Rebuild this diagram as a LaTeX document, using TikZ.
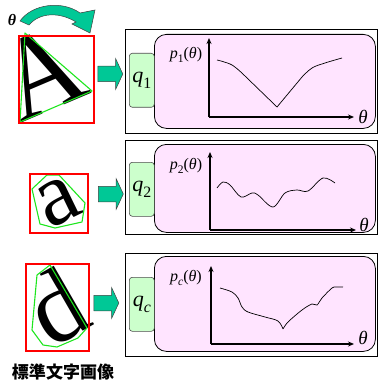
\documentclass[tikz,border=0pt]{standalone}
\usepackage{fontspec}
\setmainfont{Liberation Serif}
\newfontfamily\cjk{Noto Sans CJK JP}
\usetikzlibrary{arrows.meta,shapes.arrows}
\definecolor{pinkc}{RGB}{255,228,255}
\definecolor{greenc}{RGB}{204,255,204}
\definecolor{tealc}{RGB}{0,200,150}
\definecolor{hullc}{RGB}{30,230,30}
\newcommand\mysb[1]{\raisebox{-0.28em}{\scalebox{0.72}{#1}}}
\begin{document}
\begin{tikzpicture}[x=1pt,y=-1pt,
  outerbox/.style={draw=black,line width=0.8pt,fill=white,anchor=north west,inner sep=0},
  pinkbox/.style={draw=black,line width=0.8pt,fill=pinkc,rounded corners=12pt,anchor=north west,inner sep=0},
  qbox/.style={draw=black!70,line width=0.6pt,fill=greenc,rounded corners=3pt,anchor=north west,inner sep=0,minimum width=25pt,minimum height=54pt},
  qlabel/.style={font=\fontsize{22}{24}\selectfont,inner sep=0},
  plabel/.style={font=\fontsize{16}{18}\selectfont,inner sep=0},
  thlabel/.style={font=\fontsize{19}{20}\selectfont\itshape,inner sep=0},
  axis/.style={line width=1.3pt,-{Stealth[length=6pt,width=5pt]}},
  curve/.style={line width=0.7pt},
  blockarrow/.style={single arrow,fill=tealc,draw=black!75,line width=0.5pt,inner sep=7.5pt,
    minimum height=25pt,single arrow head extend=7.5pt,single arrow tip angle=130},
  redbox/.style={draw=red,line width=1.6pt,anchor=north west,inner sep=0},
  hull/.style={draw=hullc,line width=1.1pt,line join=round},
  letter/.style={inner sep=0,text=black}
]
\useasboundingbox (0,0) rectangle (379,385);

% ---------- panel 1 ----------
\node[outerbox,minimum width=252pt,minimum height=104pt] (o1) at (125,29) {};
\node[pinkbox,minimum width=221pt,minimum height=94pt] (pk1) at (154,34) {};
\node[qbox] (q1) at (129,53) {};
\node[qlabel] at (q1.center) {\textit{q}\mysb{1}};
\node[plabel] (p1) at (186,55) {\textit{p}\mysb{1}(\textit{θ})};
\coordinate (or1) at (209,117);
\coordinate (yt1) at (209,38);
\coordinate (xe1) at (354,117);
\draw[axis] (or1) -- (yt1);
\draw[axis] (or1) -- (xe1);
\node[thlabel] (t1) at (363,117) {θ};
\draw[curve] plot[smooth,tension=0.6] coordinates {(217,60) (232,65) (245,76)} -- (277,107) -- (302,77)
  plot[smooth,tension=0.6] coordinates {(302,77) (312,68) (325,63) (342,58)};

% ---------- panel 2 ----------
\node[outerbox,minimum width=252pt,minimum height=94pt] (o2) at (125,140) {};
\node[pinkbox,minimum width=221pt,minimum height=88pt] (pk2) at (154,144) {};
\node[qbox] (q2) at (129,162) {};
\node[qlabel] at (q2.center) {\textit{q}\mysb{2}};
\node[plabel] (p2) at (186,166) {\textit{p}\mysb{2}(\textit{θ})};
\coordinate (or2) at (210,230);
\coordinate (yt2) at (210,152);
\coordinate (xe2) at (356,230);
\draw[axis] (or2) -- (yt2);
\draw[axis] (or2) -- (xe2);
\node[thlabel] (t2) at (364,225) {θ};
\draw[curve] plot[smooth,tension=0.55] coordinates {(217,188) (223,182) (230,185) (241,197) (252,193) (258,195) (273,207) (285,193) (297,190) (308,191) (323,178) (335,183)};

% ---------- panel 3 ----------
\node[outerbox,minimum width=252pt,minimum height=103pt] (o3) at (125,253) {};
\node[pinkbox,minimum width=221pt,minimum height=95pt] (pk3) at (154,256) {};
\node[qbox] (q3) at (129,277) {};
\node[qlabel] at (q3.center) {\textit{q}\mysb{\textit{c}}};
\node[plabel] (p3) at (186,278) {\textit{p}\mysb{\textit{c}}(\textit{θ})};
\coordinate (or3) at (211,344);
\coordinate (yt3) at (211,266);
\coordinate (xe3) at (354,344);
\draw[axis] (or3) -- (yt3);
\draw[axis] (or3) -- (xe3);
\node[thlabel] (t3) at (363,338) {θ};
\draw[curve] plot[smooth,tension=0.55] coordinates {(220,288) (232,292) (238,298) (242,307) (248,312) (265,317) (278,321) (283,329)}
  plot[smooth,tension=0.55] coordinates {(283,329) (288,322) (302,310) (312,304) (317,305) (322,298) (332,288) (336,287) (343,287)};

% ---------- letters ----------
\node[letter,rotate=23,font=\fontsize{118}{118}\selectfont] (lA) at (41,72) {\scalebox{0.92}[1]{A}};
\draw[hull] (25,33) -- (92,91) -- (20,122) -- cycle;
\node[redbox,minimum width=75pt,minimum height=87pt] (rA) at (18,35) {};

\node[letter,rotate=26,font=\fontsize{90}{90}\selectfont] (la) at (58,202) {a};
\draw[hull] (32,189) -- (47,175) -- (59,175) -- (85,203) -- (82,222) -- (55,228) -- (40,224) -- cycle;
\node[redbox,minimum width=58pt,minimum height=59pt] (ra) at (29,173) {};

\node[letter,rotate=30,font=\fontsize{102}{102}\selectfont] (ld) at (56,307) {d};
\draw[hull] (37,275) -- (50,265) -- (87,328) -- (78,338) -- (57,347) -- (43,345) -- (32,330) -- cycle;
\node[redbox,minimum width=63pt,minimum height=87pt] (rd) at (25,263) {};

% ---------- block arrows ----------
\node[blockarrow] (a1) at (108.5,74) {};
\node[blockarrow] (a2) at (109,194) {};
\node[blockarrow] (a3) at (104.5,303) {};

% ---------- rotation arrow ----------
\node[inner sep=0,font=\fontsize{16}{16}\selectfont\bfseries\itshape] (th) at (12,20) {θ};
\fill[tealc,draw=black!75,line width=0.5pt]
  (20,21) .. controls (32,4) and (62,0) .. (80,13) -- (95,10) -- (90,33) -- (72,24) -- (76,22)
  .. controls (60,12) and (40,12) .. (29,25) -- cycle;

% ---------- caption ----------
\node[inner sep=0,font=\cjk\bfseries\fontsize{17}{18}\selectfont] (cap) at (63,372) {標準文字画像};
\end{tikzpicture}
\end{document}
